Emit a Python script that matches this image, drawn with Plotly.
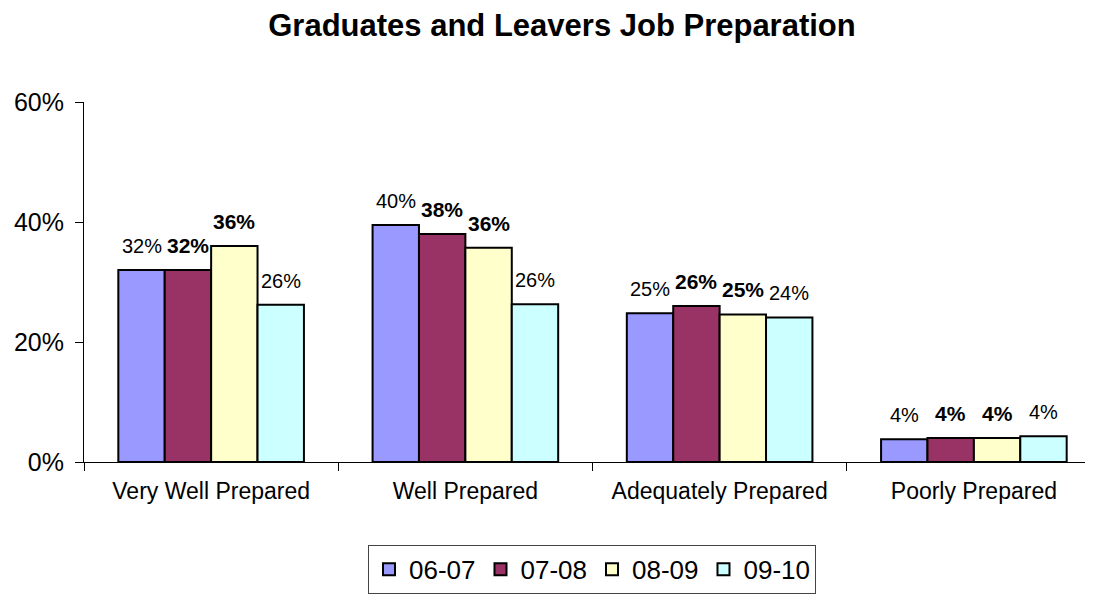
import plotly.graph_objects as go

categories = ['Very Well Prepared', 'Well Prepared', 'Adequately Prepared', 'Poorly Prepared']
years = ['06-07', '07-08', '08-09', '09-10']

vals_0607 = [32.0, 39.5, 24.8, 3.8]
vals_0708 = [32.0, 38.0, 26.0, 4.0]
vals_0809 = [36.0, 35.7, 24.6, 4.0]
vals_0910 = [26.2, 26.3, 24.1, 4.3]

colors = ['#9999FF', '#993366', '#FFFFCC', '#CCFFFF']
bold_labels = [False, True, True, False]

font = 'Liberation Sans, Arial, sans-serif'

# page body has an 8px margin, so the figure is shifted by that much
W, H = 1093, 604
ml, mt, mr = 76, 94, 0
plot_h = 360
bargap = 0.27
cat_w = (W - ml - mr) / 4
bar_w = cat_w * (1 - bargap) / 4

fig = go.Figure()
all_vals = [vals_0607, vals_0708, vals_0809, vals_0910]
for i, (name, vals, col, bold) in enumerate(zip(years, all_vals, colors, bold_labels)):
    fig.add_trace(go.Bar(
        x=categories, y=vals, name=name,
        marker=dict(color=col, line=dict(color='black', width=2)),
        hovertemplate='%{x}<br>' + name + ': %{y}%<extra></extra>',
    ))
    for c, v in zip(categories, vals):
        txt = f'{v:.0f}%'
        fig.add_annotation(
            x=c, y=v, xref='x', yref='y', text=f'<b>{txt}</b>' if bold else txt,
            showarrow=False, yanchor='bottom', xanchor='center',
            xshift=(i - 1.5) * bar_w, yshift=11,
            font=dict(family=font, size=21 if bold else 20, color='black'),
        )

fig.update_layout(
    width=W, height=H,
    margin=dict(l=ml, r=mr, t=mt, b=H - mt - plot_h),
    paper_bgcolor='white', plot_bgcolor='white',
    font=dict(family=font, color='black'),
    title=dict(text='<b>Graduates and Leavers Job Preparation</b>', x=554 / W, xanchor='center',
               y=1 - 17 / H, yanchor='middle', font=dict(size=31, family=font)),
    barmode='group', bargap=bargap, bargroupgap=0,
    legend=dict(orientation='h', x=0.4995, xanchor='center', y=-0.23, yanchor='top',
                bordercolor='#444', borderwidth=1, font=dict(size=26, family=font),
                traceorder='normal'),
)
fig.update_xaxes(
    range=[-0.5, 3.5], showline=True, linecolor='black', linewidth=1,
    ticks='outside', tickson='boundaries', ticklen=8, tickcolor='black',
    tickfont=dict(size=23, family=font), showgrid=False, ticklabelstandoff=8,
)
fig.update_yaxes(
    range=[0, 60], dtick=20, ticksuffix='%', showline=True, linecolor='black', linewidth=1,
    ticks='outside', ticklen=8, tickcolor='black', showgrid=False, zeroline=False,
    tickfont=dict(size=25, family=font), ticklabelstandoff=6,
)

fig.write_html('out.html')
